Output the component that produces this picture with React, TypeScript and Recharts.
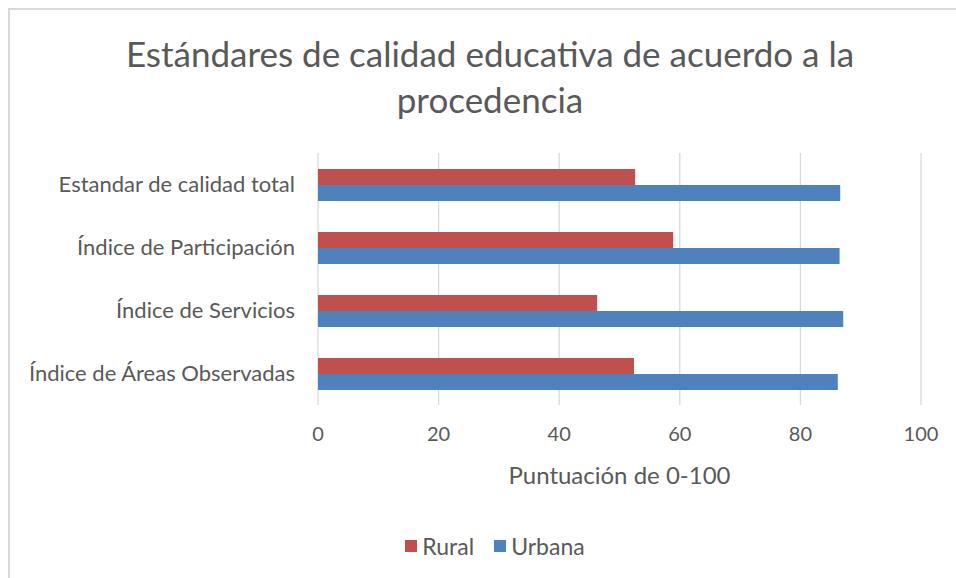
import React from "react";
import { BarChart, Bar, XAxis, YAxis, CartesianGrid } from "recharts";

const categories = [
  "Estandar de calidad total",
  "Índice de Participación",
  "Índice de Servicios",
  "Índice de Áreas Observadas",
];
const rural = [52.6, 58.9, 46.3, 52.4];
const urbana = [86.6, 86.5, 87.1, 86.2];
const xTicks = [0, 20, 40, 60, 80, 100];
const titleLines = ["Estándares de calidad educativa de acuerdo a la", "procedencia"];
const xAxisTitle = "Puntuación de 0-100";
const series = [
  { key: "rural", name: "Rural", color: "#C0504D" },
  { key: "urbana", name: "Urbana", color: "#4F81BD" },
];

const data = categories.map((c, i) => ({ name: c, rural: rural[i], urbana: urbana[i] }));

const FONT = "Lato, 'Open Sans', sans-serif";
const TXT = "#595959";
const W = 948;
const H = 570;

export default function App() {
  return (
    <div
      style={{
        position: "fixed",
        left: 8,
        top: 8,
        width: W,
        height: H,
        fontFamily: FONT,
        color: TXT,
        background: "#fff",
        overflow: "hidden",
      }}
    >
      <div
        style={{
          position: "absolute",
          left: 0,
          top: 0,
          width: W,
          height: H,
          borderTop: "2px solid #d9d9d9",
          borderLeft: "2px solid #d9d9d9",
          boxSizing: "border-box",
        }}
      />
      <div
        style={{
          position: "absolute",
          left: 0,
          top: 22,
          width: 964,
          textAlign: "center",
          fontSize: 35,
          lineHeight: "46px",
        }}
      >
        {titleLines.map((l, i) => (
          <div key={i}>{l}</div>
        ))}
      </div>
      <div style={{ position: "absolute", left: 0, top: 0 }}>
        <BarChart
          width={W}
          height={H}
          data={data}
          layout="vertical"
          margin={{ top: 145, right: 35, bottom: 143, left: 10 }}
          barSize={16}
          barGap={0}
        >
          <CartesianGrid horizontal={false} vertical={true} stroke="#d9d9d9" strokeWidth={1.3} />
          <XAxis
            type="number"
            domain={[0, 100]}
            ticks={xTicks}
            axisLine={false}
            tickLine={false}
            tickMargin={16}
            height={30}
            tick={{ fill: TXT, fontSize: 20, fontFamily: FONT }}
            interval={0}
          />
          <YAxis
            type="category"
            dataKey="name"
            width={300}
            axisLine={false}
            tickLine={false}
            tickMargin={17}
            tick={{ fill: TXT, fontSize: 22, fontFamily: FONT }}
            interval={0}
          />
          {series.map((s) => (
            <Bar
              key={s.key}
              dataKey={s.key}
              name={s.name}
              fill={s.color}
              isAnimationActive={false}
            />
          ))}
        </BarChart>
      </div>
      <div
        style={{
          position: "absolute",
          left: 310,
          width: 603,
          top: 452,
          textAlign: "center",
          fontSize: 24,
          lineHeight: "30px",
        }}
      >
        {xAxisTitle}
      </div>
      <div
        style={{
          position: "absolute",
          left: 0,
          width: 974,
          top: 523,
          display: "flex",
          justifyContent: "center",
          fontSize: 23,
          lineHeight: "30px",
        }}
      >
        {series.map((s, i) => (
          <div
            key={s.key}
            style={{ display: "flex", alignItems: "center", marginRight: i === 0 ? 20 : 0 }}
          >
            <span
              style={{ display: "inline-block", width: 12, height: 12, background: s.color, marginRight: 5 }}
            />
            <span>{s.name}</span>
          </div>
        ))}
      </div>
    </div>
  );
}
